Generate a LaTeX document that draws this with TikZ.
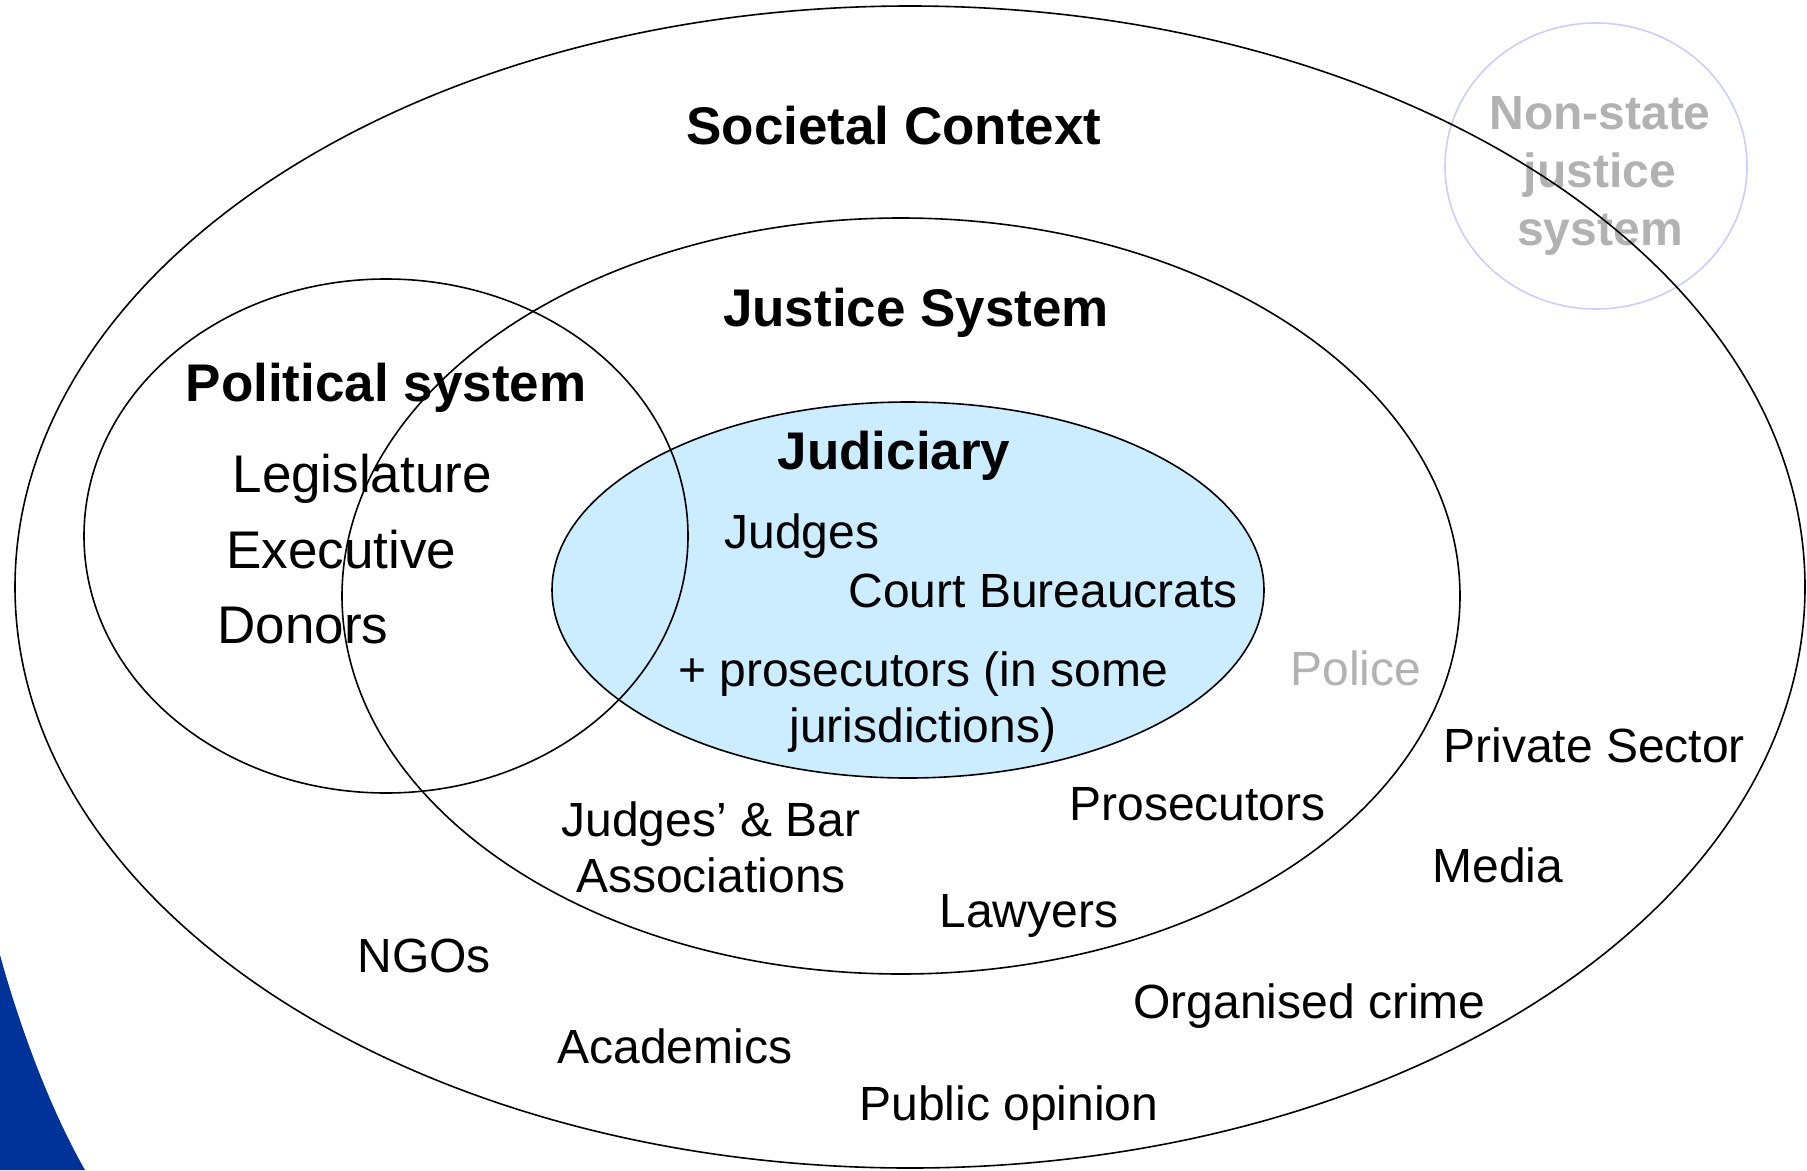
\documentclass[tikz,border=0pt]{standalone}
\usepackage{fontspec}
\setmainfont{Liberation Sans}
\usepackage{xcolor}
\usepackage{tikz}
\usetikzlibrary{positioning}

\definecolor{judblue}{RGB}{204,236,255}
\definecolor{nonstateline}{RGB}{204,204,255}
\definecolor{greytext}{RGB}{178,178,178}
\definecolor{slideblue}{RGB}{0,51,153}

\tikzset{
  ring/.style={line width=1.6pt},
  title/.style={font=\fontsize{53}{62}\selectfont\bfseries, anchor=base},
  bigitem/.style={font=\fontsize{53}{62}\selectfont, anchor=base west},
  item/.style={font=\fontsize{48}{56}\selectfont, anchor=base west},
  block/.style={font=\fontsize{48}{56}\selectfont, align=center}
}

\begin{document}
\begin{tikzpicture}[x=1pt,y=-1pt]
    \useasboundingbox (0,0) rectangle (1807,1170);

    % Slide corner
    \fill[slideblue] (0,955) .. controls (15,1010) and (45,1100) .. (85,1170) -- (0,1170) -- cycle;

    % Non-state justice
    \draw[nonstateline, line width=1.6pt] (1596,166) ellipse [x radius=151pt, y radius=143pt];
    \node[greytext, font=\fontsize{48}{58}\selectfont\bfseries, align=center] (nonstate) at (1600,176) {Non-state\\justice\\system};

    % Judiciary
    \filldraw[fill=judblue, ring] (908,590) ellipse [x radius=356pt, y radius=188pt];

    % Political system
    \draw[ring] (386,536) ellipse [x radius=302pt, y radius=257pt];

    % Justice system
    \draw[ring] (901,596) ellipse [x radius=559pt, y radius=378pt];

    % Societal context
    \draw[ring] (910,587) ellipse [x radius=895pt, y radius=581pt];

    % Titles
    \node[title] (societal) at (894,144) {Societal Context};
    \node[title] (justice) at (916,326) {Justice System};
    \node[title] (political) at (386,401) {Political system};
    \node[title] (judiciary) at (894,469) {Judiciary};

    % Political actors
    \node[bigitem] (legislature) at (229,492) {Legislature};
    \node[bigitem] (executive) at (223,568) {Executive};
    \node[bigitem] (donors) at (214,643) {Donors};

    % Judiciary actors
    \node[item] (judges) at (721,548) {Judges};
    \node[item] (bureaucrats) at (845,607) {Court Bureaucrats};
    \node[block] (prosec) at (923,702) {+ prosecutors (in some\\jurisdictions)};

    % Justice system actors
    \node[item, greytext] (police) at (1287,685) {Police};
    \node[item] (prosecutors) at (1066,820) {Prosecutors};
    \node[block] (assoc) at (711,847) {Judges’ \& Bar\\Associations};
    \node[item] (lawyers) at (936,927) {Lawyers};

    % Society
    \node[item] (private) at (1440,762) {Private Sector};
    \node[item] (media) at (1429,882) {Media};
    \node[item] (ngos) at (354,972) {NGOs};
    \node[item] (crime) at (1130,1018) {Organised crime};
    \node[item] (academics) at (554,1063) {Academics};
    \node[item] (opinion) at (856,1120) {Public opinion};

\end{tikzpicture}
\end{document}
